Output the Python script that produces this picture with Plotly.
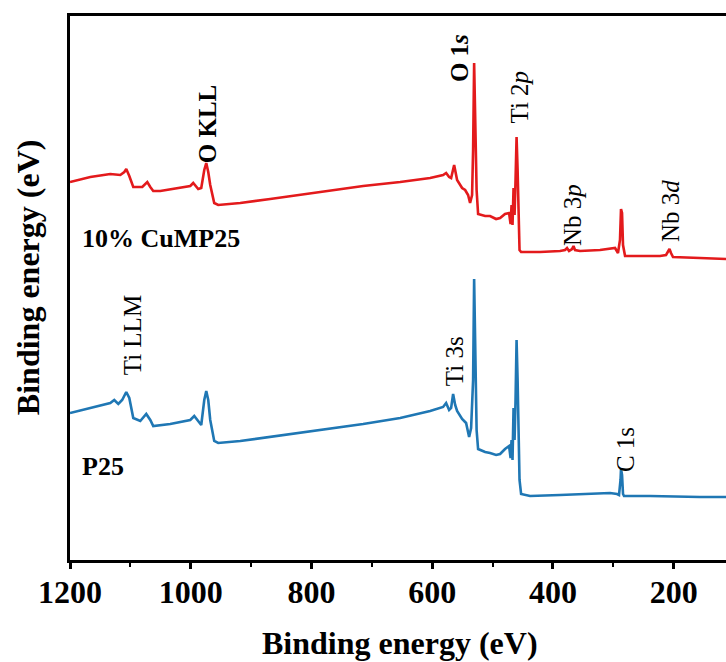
import plotly.graph_objects as go

# XPS survey spectra, binding energy (eV) vs intensity (a.u., offset)
cump25_energy = [1200, 1166.4, 1133.3, 1116.7, 1110, 1106.8, 1101.8, 1095.2, 1080.3, 1072, 1067,
                 1062.1, 1050.5, 1017.4, 1000.8, 995.9, 987.6, 982.6, 977.6, 974.3, 971, 967.7,
                 961.1, 954.5, 918, 868.4, 818.7, 769, 714.4, 653.1, 603.5, 582, 577, 572, 568.7,
                 563.7, 558.8, 550.5, 545.5, 540.6, 537.3, 534, 532.3, 530.6, 528.2, 526.5, 524,
                 512.4, 504.2, 494.2, 487.6, 479.4, 472.7, 470.2, 468.6, 467, 465.3, 463.6, 462,
                 460.3, 458.6, 457, 455.4, 452.8, 421.4, 388.3, 380, 376.7, 373.4, 368.4, 366,
                 363.5, 355.2, 322.1, 305.5, 297.2, 292.3, 289, 287.3, 285.6, 284, 280.6, 255.8,
                 222.7, 212.7, 209.4, 207, 204.5, 201.2, 156.5, 113.4]
cump25_counts = [378, 383, 386, 385, 388, 391, 384, 373, 373, 378, 373,
                 369, 369, 372, 374, 377, 371, 372, 390, 397, 388, 375,
                 357, 355, 357, 361, 365, 369, 374, 378, 382, 385, 387, 383, 382,
                 395, 380, 372, 370, 365, 357, 365, 410, 497, 430, 370, 346,
                 344, 344, 341, 342, 346, 347, 336, 355, 335, 372, 345, 380,
                 423, 390, 345, 310, 308, 308, 309, 310, 312, 309, 311, 314,
                 310, 309, 310, 311, 312, 307, 320, 351, 347, 315, 304, 304,
                 304, 305, 308, 311, 307, 303, 302, 301]

p25_energy = [1200, 1166.4, 1133.3, 1126.7, 1120, 1113.6, 1106.8, 1101.8, 1095.2, 1083.6, 1073.7,
              1067, 1062.1, 1034, 1000.8, 994.2, 985.9, 982.6, 977.6, 974.3, 971, 967.7, 961.1,
              954.5, 918, 868.4, 818.7, 769, 714.4, 653.1, 603.5, 582, 577, 572, 568.7, 565.4,
              562, 558.8, 550.5, 543.9, 538.9, 535.6, 532.3, 530.6, 528.2, 526.5, 524, 512.4,
              504.2, 494.2, 487.6, 479.4, 472.7, 470.2, 468.6, 467, 465.3, 463.6, 462, 460.3,
              458.6, 457, 455.4, 452.8, 437.9, 388.3, 322.1, 305.5, 293.9, 290.6, 288.1, 287.3,
              285.6, 284, 282.3, 239.2, 156.5, 113.4]
p25_counts = [147, 152, 157, 160, 156, 160, 168, 162, 142, 139, 146,
              140, 134, 136, 140, 144, 137, 135, 160, 169, 160, 140, 119,
              117, 119, 123, 127, 131, 136, 142, 149, 153, 157, 150, 152, 166,
              155, 149, 141, 137, 123, 132, 180, 281, 190, 130, 111, 108,
              107, 105, 106, 111, 114, 102, 120, 100, 152, 120, 160, 220,
              180, 120, 80, 66, 64, 65, 66, 67, 66, 65, 80, 91,
              85, 66, 64, 64, 63, 63]

# Peak assignments: (text, energy, height, bold)
peak_labels = [
    ("O KLL", 972.7, 436, True),
    ("O 1<i>s</i>", 555.5, 502, True),
    ("Ti 2<i>p</i>", 455.5, 463, False),
    ("Nb 3<i>p</i>", 368.4, 345, False),
    ("Nb 3<i>d</i>", 206.1, 349, False),
    ("Ti LLM", 1096.9, 225, False),
    ("Ti 3s", 563.7, 199, False),
    ("C 1s", 280.6, 110, False),
]
sample_labels = [("10% CuMP25", 1183, 322), ("P25", 1183, 94)]

X_RANGE = [1200, 113.4]
RED = "#E31A1C"
BLUE = "#1F77B4"
SERIF = "Liberation Serif"

fig = go.Figure()
fig.add_trace(go.Scatter(x=cump25_energy, y=cump25_counts, mode="lines",
                         line=dict(color=RED, width=2.6), name="10% CuMP25"))
fig.add_trace(go.Scatter(x=p25_energy, y=p25_counts, mode="lines",
                         line=dict(color=BLUE, width=2.6), name="P25"))
# invisible trace on the secondary x axis, which only carries the major ticks
fig.add_trace(go.Scatter(x=[X_RANGE[0]], y=[0], xaxis="x2", mode="markers",
                         marker=dict(opacity=0), hoverinfo="skip", showlegend=False))

annotations = []
for text, e, h, bold in peak_labels:
    annotations.append(dict(
        x=e, y=h, xref="x", yref="y", text=text,
        textangle=-90, showarrow=False, xanchor="center", yanchor="middle",
        font=dict(family=SERIF, size=25, color="black",
                  weight="bold" if bold else "normal")))
for text, e, h in sample_labels:
    annotations.append(dict(
        x=e, y=h, xref="x", yref="y", text=text,
        showarrow=False, xanchor="left", yanchor="middle",
        font=dict(family=SERIF, size=26, color="black", weight="bold")))

# axis titles
annotations.append(dict(
    x=0.503, y=-0.152, xref="paper", yref="paper", text="Binding energy (eV)",
    showarrow=False, xanchor="center", yanchor="middle",
    font=dict(family=SERIF, size=32, color="black", weight="bold")))
annotations.append(dict(
    x=-0.064, y=0.52, xref="paper", yref="paper", text="Binding energy (eV)",
    textangle=-90, showarrow=False, xanchor="center", yanchor="middle",
    font=dict(family=SERIF, size=32, color="black", weight="bold")))

fig.update_layout(
    width=726, height=662,
    margin=dict(l=70, r=0, t=16, b=102),
    plot_bgcolor="white", paper_bgcolor="white",
    showlegend=False,
    annotations=annotations,
    xaxis=dict(
        range=X_RANGE, tick0=0, dtick=200, ticks="",
        minor=dict(ticks="outside", ticklen=4, tickwidth=2, dtick=100, tickcolor="black"),
        showline=True, linecolor="black", linewidth=2.5, mirror=True,
        showgrid=False, zeroline=False,
        tickfont=dict(family=SERIF, size=32, color="black", weight="bold"),
        ticklabelstandoff=2,
    ),
    xaxis2=dict(
        range=X_RANGE, overlaying="x", anchor="y", side="bottom",
        tick0=0, dtick=200, ticks="outside", ticklen=8, tickwidth=2.5, tickcolor="black",
        showticklabels=False, showline=False, showgrid=False, zeroline=False,
    ),
    yaxis=dict(
        range=[0, 544], showticklabels=False, ticks="",
        showline=True, linecolor="black", linewidth=2.5, mirror=False,
        showgrid=False, zeroline=False,
    ),
)

fig.write_html("out.html")
